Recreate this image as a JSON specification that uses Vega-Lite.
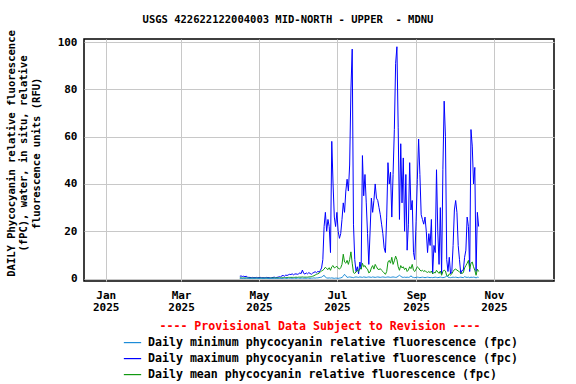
{
"$schema":"https://vega.github.io/schema/vega-lite/v6.json",
"width":470,"height":242,
"autosize":{"type":"none"},
"padding":{"left":84,"top":39,"right":22,"bottom":103},
"background":"white",
"config":{"font":"DejaVu Sans Mono","view":{"stroke":"#000000","strokeWidth":1.5}},
"title":{"text":"USGS 422622122004003 MID-NORTH - UPPER\u00a0 - MDNU","font":"DejaVu Sans Mono","fontSize":10.5,"fontWeight":"bold","color":"#000000","anchor":"middle","dx":-31,"offset":4},
"data":{"values":[
{"d":"2025-04-16","mx":1.0,"me":0.3,"mn":0.1},{"d":"2025-04-17","mx":1.1,"me":0.3,"mn":0.2},{"d":"2025-04-18","mx":0.9,"me":0.2,"mn":0.1},{"d":"2025-04-19","mx":1.0,"me":0.3,"mn":0.1},{"d":"2025-04-20","mx":0.8,"me":0.2,"mn":0.1},{"d":"2025-04-21","mx":1.0,"me":0.3,"mn":0.2},{"d":"2025-04-22","mx":0.6,"me":0.2,"mn":0.1},{"d":"2025-04-23","mx":0.5,"me":0.2,"mn":0.1},{"d":"2025-04-24","mx":0.5,"me":0.2,"mn":0.1},{"d":"2025-04-25","mx":0.4,"me":0.2,"mn":0.1},{"d":"2025-04-26","mx":0.5,"me":0.2,"mn":0.0},{"d":"2025-04-27","mx":0.4,"me":0.2,"mn":0.1},{"d":"2025-04-28","mx":0.4,"me":0.2,"mn":0.1},{"d":"2025-04-29","mx":0.5,"me":0.2,"mn":0.1},{"d":"2025-04-30","mx":0.4,"me":0.2,"mn":0.0},
{"d":"2025-05-01","mx":0.4,"me":0.2,"mn":0.1},{"d":"2025-05-02","mx":0.5,"me":0.2,"mn":0.1},{"d":"2025-05-03","mx":0.4,"me":0.2,"mn":0.1},{"d":"2025-05-04","mx":0.4,"me":0.2,"mn":0.0},{"d":"2025-05-05","mx":0.3,"me":0.2,"mn":0.1},{"d":"2025-05-06","mx":0.4,"me":0.2,"mn":0.1},{"d":"2025-05-07","mx":0.5,"me":0.2,"mn":0.1},{"d":"2025-05-08","mx":0.4,"me":0.2,"mn":0.1},{"d":"2025-05-09","mx":0.4,"me":0.2,"mn":0.0},{"d":"2025-05-10","mx":0.3,"me":0.2,"mn":0.1},{"d":"2025-05-11","mx":0.4,"me":0.2,"mn":0.1},{"d":"2025-05-12","mx":0.5,"me":0.3,"mn":0.1},{"d":"2025-05-13","mx":0.6,"me":0.3,"mn":0.1},{"d":"2025-05-14","mx":0.4,"me":0.2,"mn":0.1},{"d":"2025-05-15","mx":0.5,"me":0.3,"mn":0.1},{"d":"2025-05-16","mx":0.6,"me":0.3,"mn":0.1},{"d":"2025-05-17","mx":0.8,"me":0.3,"mn":0.1},{"d":"2025-05-18","mx":0.7,"me":0.3,"mn":0.1},{"d":"2025-05-19","mx":1.2,"me":0.3,"mn":0.1},{"d":"2025-05-20","mx":1.3,"me":0.4,"mn":0.1},{"d":"2025-05-21","mx":1.0,"me":0.4,"mn":0.2},{"d":"2025-05-22","mx":1.5,"me":0.4,"mn":0.1},{"d":"2025-05-23","mx":1.3,"me":0.4,"mn":0.1},{"d":"2025-05-24","mx":1.6,"me":0.5,"mn":0.2},{"d":"2025-05-25","mx":1.8,"me":0.5,"mn":0.1},{"d":"2025-05-26","mx":1.7,"me":0.5,"mn":0.2},{"d":"2025-05-27","mx":2.0,"me":0.5,"mn":0.1},{"d":"2025-05-28","mx":1.6,"me":0.5,"mn":0.1},{"d":"2025-05-29","mx":1.9,"me":0.5,"mn":0.2},{"d":"2025-05-30","mx":2.0,"me":0.6,"mn":0.1},{"d":"2025-05-31","mx":1.8,"me":0.5,"mn":0.2},
{"d":"2025-06-01","mx":2.0,"me":0.6,"mn":0.2},{"d":"2025-06-02","mx":2.4,"me":0.6,"mn":0.1},{"d":"2025-06-03","mx":2.1,"me":0.6,"mn":0.2},{"d":"2025-06-04","mx":3.6,"me":0.7,"mn":0.2},{"d":"2025-06-05","mx":2.2,"me":0.6,"mn":0.1},{"d":"2025-06-06","mx":1.9,"me":0.6,"mn":0.2},{"d":"2025-06-07","mx":2.4,"me":0.6,"mn":0.1},{"d":"2025-06-08","mx":2.0,"me":0.6,"mn":0.2},{"d":"2025-06-09","mx":2.5,"me":0.7,"mn":0.2},{"d":"2025-06-10","mx":2.2,"me":0.7,"mn":0.1},{"d":"2025-06-11","mx":1.8,"me":0.8,"mn":0.2},{"d":"2025-06-12","mx":2.3,"me":1.0,"mn":0.2},{"d":"2025-06-13","mx":2.6,"me":1.2,"mn":0.3},{"d":"2025-06-14","mx":2.9,"me":1.5,"mn":0.2},{"d":"2025-06-15","mx":2.5,"me":1.8,"mn":0.3},{"d":"2025-06-16","mx":3.0,"me":2.0,"mn":0.3},{"d":"2025-06-17","mx":2.8,"me":2.3,"mn":0.4},{"d":"2025-06-18","mx":3.4,"me":2.8,"mn":0.5},{"d":"2025-06-19","mx":4.5,"me":3.2,"mn":0.6},{"d":"2025-06-20","mx":8,"me":3.5,"mn":1.0},{"d":"2025-06-21","mx":22,"me":4.0,"mn":1.4},{"d":"2025-06-22","mx":28,"me":4.8,"mn":0.6},{"d":"2025-06-23","mx":20,"me":4.2,"mn":0.3},{"d":"2025-06-24","mx":25,"me":3.8,"mn":0.2},{"d":"2025-06-25","mx":22,"me":4.6,"mn":0.3},{"d":"2025-06-26","mx":11,"me":3.5,"mn":0.2},{"d":"2025-06-27","mx":58,"me":5.0,"mn":0.3},{"d":"2025-06-28","mx":40,"me":5.5,"mn":0.2},{"d":"2025-06-29","mx":26,"me":4.5,"mn":0.1},{"d":"2025-06-30","mx":22,"me":4.8,"mn":0.2},
{"d":"2025-07-01","mx":28,"me":5.2,"mn":0.2},{"d":"2025-07-02","mx":20,"me":4.4,"mn":0.1},{"d":"2025-07-03","mx":17,"me":4.0,"mn":0.2},{"d":"2025-07-04","mx":19,"me":4.6,"mn":0.3},{"d":"2025-07-05","mx":25,"me":6.0,"mn":0.5},{"d":"2025-07-06","mx":32,"me":10.3,"mn":1.0},{"d":"2025-07-07","mx":28,"me":7.0,"mn":1.8},{"d":"2025-07-08","mx":37,"me":6.5,"mn":1.2},{"d":"2025-07-09","mx":42,"me":7.7,"mn":0.5},{"d":"2025-07-10","mx":37,"me":6.0,"mn":0.6},{"d":"2025-07-11","mx":48,"me":8.0,"mn":0.7},{"d":"2025-07-12","mx":80,"me":11.3,"mn":0.6},{"d":"2025-07-13","mx":97,"me":6.5,"mn":0.5},{"d":"2025-07-14","mx":23,"me":2.5,"mn":0.4},{"d":"2025-07-15","mx":8,"me":2.2,"mn":0.6},{"d":"2025-07-16","mx":3,"me":2.8,"mn":0.7},{"d":"2025-07-17","mx":5,"me":3.5,"mn":0.6},{"d":"2025-07-18","mx":2,"me":3.0,"mn":0.5},{"d":"2025-07-19","mx":7,"me":4.4,"mn":0.7},{"d":"2025-07-20","mx":4,"me":4.0,"mn":0.6},{"d":"2025-07-21","mx":52,"me":6.5,"mn":0.5},{"d":"2025-07-22","mx":35,"me":5.0,"mn":0.7},{"d":"2025-07-23","mx":44,"me":5.5,"mn":0.6},{"d":"2025-07-24","mx":32,"me":4.4,"mn":0.5},{"d":"2025-07-25","mx":19,"me":4.0,"mn":0.6},{"d":"2025-07-26","mx":6,"me":2.4,"mn":0.7},{"d":"2025-07-27","mx":20,"me":2.8,"mn":0.6},{"d":"2025-07-28","mx":34,"me":4.5,"mn":0.5},{"d":"2025-07-29","mx":28,"me":5.5,"mn":0.7},{"d":"2025-07-30","mx":33,"me":4.0,"mn":0.6},{"d":"2025-07-31","mx":40,"me":6.0,"mn":0.5},
{"d":"2025-08-01","mx":34,"me":5.0,"mn":0.6},{"d":"2025-08-02","mx":33,"me":4.0,"mn":0.7},{"d":"2025-08-03","mx":30,"me":3.8,"mn":0.6},{"d":"2025-08-04","mx":27,"me":4.2,"mn":0.5},{"d":"2025-08-05","mx":23,"me":3.5,"mn":0.6},{"d":"2025-08-06","mx":19,"me":3.0,"mn":0.7},{"d":"2025-08-07","mx":13,"me":2.4,"mn":0.6},{"d":"2025-08-08","mx":11,"me":1.8,"mn":0.5},{"d":"2025-08-09","mx":26,"me":3.0,"mn":0.6},{"d":"2025-08-10","mx":49,"me":7.0,"mn":0.7},{"d":"2025-08-11","mx":40,"me":7.7,"mn":0.6},{"d":"2025-08-12","mx":45,"me":6.5,"mn":0.5},{"d":"2025-08-13","mx":26,"me":9.0,"mn":0.6},{"d":"2025-08-14","mx":44,"me":6.0,"mn":0.7},{"d":"2025-08-15","mx":63,"me":7.5,"mn":0.6},{"d":"2025-08-16","mx":91,"me":9.5,"mn":0.5},{"d":"2025-08-17","mx":98,"me":8.0,"mn":0.6},{"d":"2025-08-18","mx":64,"me":5.0,"mn":1.0},{"d":"2025-08-19","mx":25,"me":3.5,"mn":1.4},{"d":"2025-08-20","mx":57,"me":5.5,"mn":1.0},{"d":"2025-08-21","mx":32,"me":4.5,"mn":0.6},{"d":"2025-08-22","mx":51,"me":5.0,"mn":0.5},{"d":"2025-08-23","mx":20,"me":3.8,"mn":0.6},{"d":"2025-08-24","mx":44,"me":4.5,"mn":0.5},{"d":"2025-08-25","mx":12,"me":3.0,"mn":0.6},{"d":"2025-08-26","mx":23,"me":3.6,"mn":0.5},{"d":"2025-08-27","mx":49,"me":5.0,"mn":0.6},{"d":"2025-08-28","mx":29,"me":4.2,"mn":1.2},{"d":"2025-08-29","mx":33,"me":6.0,"mn":0.6},{"d":"2025-08-30","mx":11,"me":3.5,"mn":0.5},{"d":"2025-08-31","mx":8,"me":3.0,"mn":0.4},
{"d":"2025-09-01","mx":24,"me":4.0,"mn":0.5},{"d":"2025-09-02","mx":42,"me":5.0,"mn":0.6},{"d":"2025-09-03","mx":59,"me":4.5,"mn":0.5},{"d":"2025-09-04","mx":44,"me":3.6,"mn":0.4},{"d":"2025-09-05","mx":27,"me":3.2,"mn":0.5},{"d":"2025-09-06","mx":25,"me":3.5,"mn":0.6},{"d":"2025-09-07","mx":23,"me":3.0,"mn":0.5},{"d":"2025-09-08","mx":26,"me":3.4,"mn":0.4},{"d":"2025-09-09","mx":20,"me":2.8,"mn":0.5},{"d":"2025-09-10","mx":11,"me":2.6,"mn":0.6},{"d":"2025-09-11","mx":19,"me":3.0,"mn":0.5},{"d":"2025-09-12","mx":14,"me":2.5,"mn":0.4},{"d":"2025-09-13","mx":25,"me":3.2,"mn":0.5},{"d":"2025-09-14","mx":2,"me":2.0,"mn":0.4},{"d":"2025-09-15","mx":14,"me":2.6,"mn":0.5},{"d":"2025-09-16","mx":11,"me":2.4,"mn":0.6},{"d":"2025-09-17","mx":46,"me":3.5,"mn":0.5},{"d":"2025-09-18","mx":20,"me":2.8,"mn":0.4},{"d":"2025-09-19","mx":6,"me":2.2,"mn":0.5},{"d":"2025-09-20","mx":30,"me":3.2,"mn":0.6},{"d":"2025-09-21","mx":2,"me":1.4,"mn":0.5},{"d":"2025-09-22","mx":46,"me":3.0,"mn":0.4},{"d":"2025-09-23","mx":75,"me":3.6,"mn":0.5},{"d":"2025-09-24","mx":60,"me":3.2,"mn":0.6},{"d":"2025-09-25","mx":8,"me":1.2,"mn":1.2},{"d":"2025-09-26","mx":3,"me":1.0,"mn":0.6},{"d":"2025-09-27","mx":9,"me":2.0,"mn":0.5},{"d":"2025-09-28","mx":2,"me":1.5,"mn":0.4},{"d":"2025-09-29","mx":3,"me":2.0,"mn":0.5},{"d":"2025-09-30","mx":14,"me":3.0,"mn":0.6},
{"d":"2025-10-01","mx":29,"me":3.8,"mn":0.5},{"d":"2025-10-02","mx":33,"me":4.0,"mn":0.6},{"d":"2025-10-03","mx":28,"me":3.6,"mn":0.5},{"d":"2025-10-04","mx":14,"me":3.2,"mn":0.4},{"d":"2025-10-05","mx":8,"me":2.8,"mn":0.5},{"d":"2025-10-06","mx":2,"me":2.4,"mn":0.6},{"d":"2025-10-07","mx":3.5,"me":2.2,"mn":0.5},{"d":"2025-10-08","mx":3.5,"me":2.5,"mn":0.4},{"d":"2025-10-09","mx":9,"me":4.5,"mn":0.8},{"d":"2025-10-10","mx":12,"me":5.5,"mn":0.6},{"d":"2025-10-11","mx":26,"me":6.5,"mn":0.5},{"d":"2025-10-12","mx":22,"me":7.7,"mn":0.6},{"d":"2025-10-13","mx":3,"me":4.0,"mn":0.4},{"d":"2025-10-14","mx":63,"me":6.5,"mn":0.6},{"d":"2025-10-15","mx":56,"me":7.0,"mn":0.5},{"d":"2025-10-16","mx":40,"me":5.0,"mn":0.6},{"d":"2025-10-17","mx":47,"me":3.5,"mn":0.5},{"d":"2025-10-18","mx":3,"me":1.4,"mn":0.3},{"d":"2025-10-19","mx":28,"me":4.0,"mn":0.6},{"d":"2025-10-20","mx":22,"me":3.0,"mn":0.5}
]},
"transform":[{"fold":["mx","me","mn"],"as":["series","value"]}],
"mark":{"type":"line","strokeWidth":1,"clip":true},
"encoding":{
"x":{"field":"d","type":"temporal","scale":{"type":"utc","domain":[{"year":2024,"month":12,"date":15,"utc":true},{"year":2025,"month":12,"date":18,"utc":true}]},
"axis":{"title":null,"values":[{"year":2025,"month":1,"date":1,"utc":true},{"year":2025,"month":3,"date":1,"utc":true},{"year":2025,"month":5,"date":1,"utc":true},{"year":2025,"month":7,"date":1,"utc":true},{"year":2025,"month":9,"date":1,"utc":true},{"year":2025,"month":11,"date":1,"utc":true}],
"labelExpr":"[utcFormat(datum.value,'%b'), utcFormat(datum.value,'%Y')]","grid":true,"gridColor":"#c8c8c8","gridWidth":1,"ticks":false,"domain":false,"labelFont":"DejaVu Sans Mono","labelFontSize":11,"labelFontWeight":"bold","labelColor":"#000000","labelPadding":8,"labelLineHeight":12,"labelFlush":false,"labelOverlap":false}},
"y":{"field":"value","type":"quantitative","scale":{"domain":[-1.02,101.27],"nice":false,"zero":false},
"axis":{"values":[0,20,40,60,80,100],"grid":true,"gridColor":"#c8c8c8","gridWidth":1,"ticks":false,"domain":false,"labelFont":"DejaVu Sans Mono","labelFontSize":11,"labelFontWeight":"bold","labelColor":"#000000","labelPadding":7,
"title":["DAILY Phycocyanin relative fluorescence","(fPC), water, in situ, relative","fluorescence units (RFU)"],"titleFont":"DejaVu Sans Mono","titleFontSize":10.5,"titleFontWeight":"bold","titleColor":"#000000","titleLineHeight":12.5,"titleAngle":270,"titleAlign":"center","titleBaseline":"top","titleX":-78,"titleY":114}},
"color":{"field":"series","type":"nominal","scale":{"domain":["mn","mx","me"],"range":["#1c8cd8","#0000ff","#119911"]},
"legend":{"orient":"none","legendX":39,"legendY":282,"direction":"vertical","padding":0,"title":"---- Provisional Data Subject to Revision ----","titleColor":"#ff0000","titleFont":"DejaVu Sans Mono","titleFontSize":11.6,"titleFontWeight":"bold","titleAnchor":"middle","titlePadding":0.5,"titleLimit":1000,"symbolType":"stroke","symbolSize":300,"symbolStrokeWidth":1.2,"labelFont":"DejaVu Sans Mono","labelFontSize":11.6,"labelFontWeight":"bold","labelColor":"#000000","labelOffset":6,"labelLimit":1000,"rowPadding":-1.6,
"labelExpr":"datum.label == 'mn' ? 'Daily minimum phycocyanin relative fluorescence (fpc)' : datum.label == 'mx' ? 'Daily maximum phycocyanin relative fluorescence (fpc)' : 'Daily mean phycocyanin relative fluorescence (fpc)'"}}
}
}
